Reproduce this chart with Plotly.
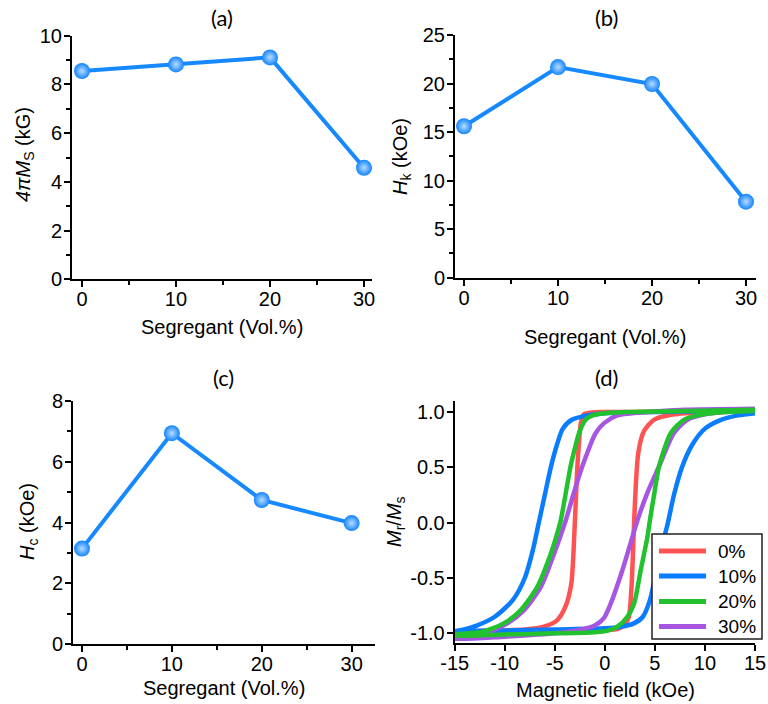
import plotly.graph_objects as go

# ---------------- data ----------------
segregant = [0, 10, 20, 30]
ms_4pi = [8.55, 8.82, 9.11, 4.58]      # (a) 4πMs (kG)
hk = [15.6, 21.7, 19.95, 7.83]          # (b) Hk (kOe)
hc = [3.14, 6.94, 4.74, 3.98]           # (c) Hc (kOe)

loop_labels = ["0%", "10%", "20%", "30%"]

# hysteresis loops (field in kOe, normalised M)
h_0 = [15, 8, 3, 0, -1.5, -2.1, -2.4, -2.6, -2.75, -2.9, -3.0, -3.15, -3.35, -3.9, -4.75, -6.1, -8, -11, -15,
       -15, -8, -3, 0, 1.3, 2.0, 2.4, 2.65, 2.8, 2.92, 3.1, 3.3, 3.6, 3.92, 4.9, 6.6, 10, 15]
m_0 = [1.02, 1.01, 1.0, 1.0, 0.995, 0.98, 0.9, 0.7, 0.5, 0.2, 0.0, -0.3, -0.55, -0.75, -0.88, -0.94, -0.965, -0.975, -0.98,
       -0.98, -0.975, -0.97, -0.97, -0.96, -0.92, -0.85, -0.6, -0.3, 0.0, 0.35, 0.6, 0.75, 0.83, 0.93, 0.975, 1.0, 1.02]

h_10 = [15, 8, 2, 0, -1.75, -3.3, -4.2, -4.8, -5.4, -6.0, -6.6, -7.2, -8.0, -9.2, -11.0, -12.8, -14.3, -15,
        -15, -10, -5, 0, 1.6, 2.9, 3.8, 4.5, 5.0, 5.6, 6.3, 6.9, 7.7, 8.7, 10.0, 11.6, 13.3, 15]
m_10 = [1.01, 1.005, 0.995, 0.99, 0.97, 0.93, 0.85, 0.7, 0.5, 0.25, 0.0, -0.25, -0.5, -0.7, -0.85, -0.93, -0.97, -0.98,
        -0.98, -0.975, -0.965, -0.955, -0.94, -0.91, -0.85, -0.7, -0.5, -0.25, 0.0, 0.25, 0.5, 0.7, 0.85, 0.93, 0.97, 0.99]

h_20 = [15, 8, 2, -0.42, -1.2, -1.92, -2.58, -3.0, -3.42, -3.9, -4.41, -4.9, -5.4, -6.75, -8.4, -10.1, -12.4, -15,
        -15, -10, -5, -1, 0.3, 1.25, 2.25, 2.92, 3.58, 4.25, 4.5, 4.95, 5.42, 6.58, 7.9, 9.25, 12, 15]
m_20 = [1.02, 1.01, 1.0, 0.985, 0.97, 0.93, 0.81, 0.67, 0.51, 0.27, 0.02, -0.14, -0.28, -0.58, -0.79, -0.91, -0.99, -1.01,
        -1.02, -1.01, -1.0, -0.99, -0.975, -0.94, -0.85, -0.73, -0.43, -0.13, 0.02, 0.27, 0.51, 0.81, 0.93, 0.97, 1.0, 1.01]

h_30 = [15, 8, 5, 1.25, -0.08, -0.92, -2.25, -3.1, -3.91, -5.07, -6.4, -8.07, -9.74, -11.7, -15,
        -15, -10, -5, -2.5, -1, -0.08, 0.59, 1.75, 2.75, 3.25, 4.25, 5.42, 6.9, 8.25, 10, 15]
m_30 = [1.03, 1.02, 1.005, 0.97, 0.90, 0.81, 0.51, 0.27, 0.02, -0.28, -0.58, -0.79, -0.91, -0.99, -1.045,
        -1.05, -1.03, -1.0, -0.97, -0.93, -0.86, -0.73, -0.43, -0.13, 0.02, 0.27, 0.51, 0.81, 0.93, 0.98, 1.02]

loop_h = [h_0, h_10, h_20, h_30]
loop_m = [m_0, m_10, m_20, m_30]
loop_colors = ["#FF5252", "#0A7DFF", "#22C22E", "#A656E0"]

x_ticks_seg = [0, 10, 20, 30]
field_tickvals = [-15, -10, -5, 0, 5, 10, 15]
field_ticktext = ["-15", "-10", "-5", "0", "5", "10", "15"]
m_tickvals = [-1.0, -0.5, 0.0, 0.5, 1.0]
m_ticktext = ["-1.0", "-0.5", "0.0", "0.5", "1.0"]

# ---------------- figure ----------------
W, H = 768, 704


def px(x):
    return x / W


def py(y):
    return 1 - y / H


TICKFONT = dict(family="Liberation Sans, Arial, sans-serif", size=20, color="black")
BLUE = "#1689FF"

fig = go.Figure()

for i, vals in enumerate([ms_4pi, hk, hc]):
    n = "" if i == 0 else str(i + 1)
    fig.add_trace(go.Scatter(
        x=segregant, y=vals, mode="lines+markers",
        xaxis="x" + n, yaxis="y" + n,
        line=dict(color=BLUE, width=4),
        marker=dict(size=16, color="#1284FF",
                    gradient=dict(type="radial", color="#b8dcff"),
                    line=dict(width=0)),
        showlegend=False,
    ))

order = [0, 1, 3, 2]
for k in order:
    fig.add_trace(go.Scatter(
        x=loop_h[k], y=loop_m[k], mode="lines", name=loop_labels[k],
        xaxis="x4", yaxis="y4",
        line=dict(color=loop_colors[k], width=4.5, shape="spline", smoothing=0.7),
        showlegend=False,
    ))


def axis(domain, rng, anchor, standoff, **kw):
    d = dict(domain=domain, range=rng, anchor=anchor, showline=True, linecolor="black",
             linewidth=2, ticks="outside", ticklen=6, tickwidth=2, tickcolor="black",
             showgrid=False, zeroline=False, tickfont=TICKFONT, fixedrange=True,
             automargin=False, ticklabelstandoff=standoff)
    d.update(kw)
    return d


minor_x = dict(tick0=0, dtick=5, ticks="outside", ticklen=4, tickwidth=2, tickcolor="black", showgrid=False)
XS, YS = -5, -2

fig.update_layout(
    width=W, height=H, autosize=False, showlegend=False,
    margin=dict(l=0, r=0, t=0, b=0, pad=0, autoexpand=False),
    paper_bgcolor="white", plot_bgcolor="white",
    xaxis=axis([px(72), px(372)], [-1.06, 30.85], "y", XS, tickvals=x_ticks_seg, minor=minor_x),
    yaxis=axis([py(279.3), py(35.7)], [0, 10], "x", YS, tick0=0, dtick=2,
               minor=dict(tick0=0, dtick=1, ticks="outside", ticklen=4, tickwidth=2, tickcolor="black", showgrid=False)),
    xaxis2=axis([px(455), px(755.7)], [-0.96, 31.03], "y2", XS, tickvals=x_ticks_seg, minor=minor_x),
    yaxis2=axis([py(277.7), py(35)], [0, 25], "x2", YS, tick0=0, dtick=5,
                minor=dict(tick0=0, dtick=2.5, ticks="outside", ticklen=4, tickwidth=2, tickcolor="black", showgrid=False)),
    xaxis3=axis([px(73), px(375)], [-1.0, 32.6], "y3", XS, tickvals=x_ticks_seg, minor=minor_x),
    yaxis3=axis([py(644), py(401)], [0, 8], "x3", YS, tick0=0, dtick=2,
                minor=dict(tick0=0, dtick=1, ticks="outside", ticklen=4, tickwidth=2, tickcolor="black", showgrid=False)),
    xaxis4=axis([px(454.7), px(755)], [-15, 15], "y4", XS, tickvals=field_tickvals, ticktext=field_ticktext),
    yaxis4=axis([py(643.3), py(401)], [-1.09, 1.1], "x4", YS, tickvals=m_tickvals, ticktext=m_ticktext),
)

ann = []
TITLEFONT = dict(family="Liberation Sans, Arial, sans-serif", size=20, color="black")
PANELFONT = dict(family="Lato, Open Sans, sans-serif", size=22, color="black")

for text, x, y in [("(a)", 222, 17), ("(b)", 606, 18), ("(c)", 223, 377), ("(d)", 606, 377)]:
    ann.append(dict(text=text, x=px(x), y=py(y), xref="paper", yref="paper",
                    xanchor="center", yanchor="middle", showarrow=False, font=PANELFONT))

for text, x, y in [("Segregant (Vol.%)", 222, 327), ("Segregant (Vol.%)", 605, 337),
                   ("Segregant (Vol.%)", 224, 688), ("Magnetic field (kOe)", 605, 690)]:
    ann.append(dict(text=text, x=px(x), y=py(y), xref="paper", yref="paper",
                    xanchor="center", yanchor="middle", showarrow=False, font=TITLEFONT))

for text, x, y in [("<i>4πM</i><sub>S</sub> (kG)", 24, 155),
                   ("<i>H</i><sub>k</sub> (kOe)", 401, 157),
                   ("<i>H</i><sub>c</sub> (kOe)", 28, 522),
                   ("<i>M</i><sub>r</sub>/<i>M</i><sub>s</sub>", 395, 522)]:
    ann.append(dict(text=text, x=px(x), y=py(y), xref="paper", yref="paper", textangle=-90,
                    xanchor="center", yanchor="middle", showarrow=False, font=TITLEFONT))

# custom legend for panel (d)
shapes = [dict(type="rect", xref="paper", yref="paper", x0=px(652), x1=px(762), y0=py(639), y1=py(534),
               line=dict(color="#222222", width=1.5), fillcolor="white", layer="above")]
row_y = [551, 576, 601.5, 626.5]
for k in range(4):
    shapes.append(dict(type="line", xref="paper", yref="paper", x0=px(659), x1=px(706),
                       y0=py(row_y[k]), y1=py(row_y[k]),
                       line=dict(color=loop_colors[k], width=5), layer="above"))
    ann.append(dict(text=loop_labels[k], x=px(716), y=py(row_y[k]), xref="paper", yref="paper",
                    xanchor="left", yanchor="middle", showarrow=False,
                    font=dict(family="Liberation Sans, Arial, sans-serif", size=19, color="black")))

fig.update_layout(annotations=ann, shapes=shapes)

fig.write_html("out.html")
